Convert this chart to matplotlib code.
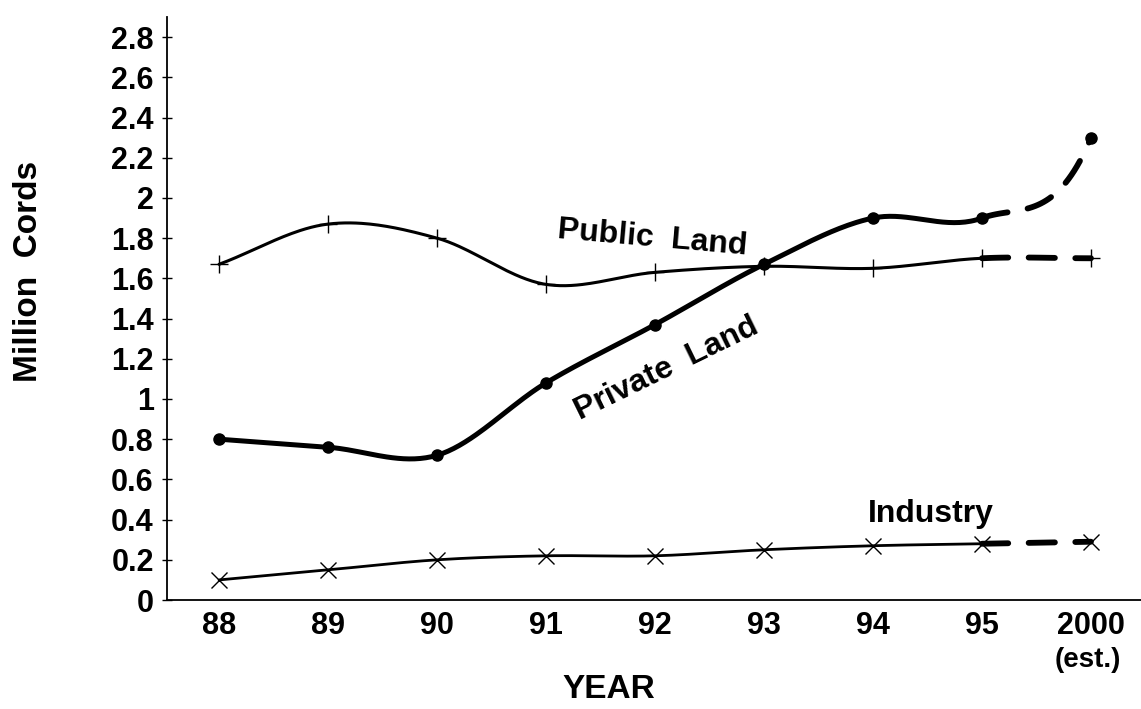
import numpy as np
import matplotlib
matplotlib.use("Agg")
import matplotlib.pyplot as plt

# data (million cords)
years = ["88", "89", "90", "91", "92", "93", "94", "95", "2000"]
public_land = [1.67, 1.87, 1.80, 1.57, 1.63, 1.66, 1.65, 1.70, 1.70]
private_land = [0.80, 0.76, 0.72, 1.08, 1.37, 1.67, 1.90, 1.90, 2.30]
industry = [0.10, 0.15, 0.20, 0.22, 0.22, 0.25, 0.27, 0.28, 0.29]
y_ticks = [0, 0.2, 0.4, 0.6, 0.8, 1, 1.2, 1.4, 1.6, 1.8, 2, 2.2, 2.4, 2.6, 2.8]

plt.rcParams["font.family"] = ["Liberation Sans", "DejaVu Sans"]
plt.rcParams["font.weight"] = "bold"


def smooth(xs, ys, end_slope=None, n=40):
    # cubic hermite (catmull-rom) through the points
    xs = np.asarray(xs, float)
    ys = np.asarray(ys, float)
    m = np.gradient(ys, xs)
    if end_slope is not None:
        m[-1] = end_slope
    out_x, out_y = [], []
    for i in range(len(xs) - 1):
        t = np.linspace(0, 1, n)
        h = xs[i + 1] - xs[i]
        h00 = 2 * t**3 - 3 * t**2 + 1
        h10 = t**3 - 2 * t**2 + t
        h01 = -2 * t**3 + 3 * t**2
        h11 = t**3 - t**2
        out_x.append(xs[i] + t * h)
        out_y.append(h00 * ys[i] + h10 * h * m[i] + h01 * ys[i + 1] + h11 * h * m[i + 1])
    return np.concatenate(out_x), np.concatenate(out_y)


def draw(ax, vals, marker, lw, ms, mew, proj_slope=None):
    x = np.arange(len(vals))
    sx, sy = smooth(x, vals)
    solid = sx <= 7
    ax.plot(sx[solid], sy[solid], color="black", lw=lw, solid_capstyle="round", zorder=3)
    # dashed projection 95 -> 2000 (est.)
    px, py = smooth(x[6:], vals[6:], end_slope=proj_slope)
    keep = px >= 7
    ax.plot(px[keep], py[keep], color="black", lw=4.2, dashes=(4.5, 3.5),
            dash_capstyle="round", zorder=3)
    ax.plot(x, vals, linestyle="none", marker=marker, color="black",
            ms=ms, mew=mew, zorder=4)


fig = plt.figure(figsize=(11.41, 7.09), dpi=100)
ax = fig.add_axes([0.1464, 0.1537, 0.8536, 0.8223])

draw(ax, public_land, "+", 2.2, 13, 1.0)
draw(ax, private_land, "o", 3.6, 8, 1.0, proj_slope=1.3)
draw(ax, industry, "x", 2.0, 11, 1.0)

ax.set_xlim(-0.477, 8.459)
ax.set_ylim(0, 2.9)
ax.set_xticks(range(len(years)))
ax.set_xticklabels(years, fontsize=22, fontweight="bold")
ax.tick_params(axis="x", length=0, pad=8)
ax.text(7.97, -0.30, "(est.)", ha="center", va="center", fontsize=20, fontweight="bold")
ax.set_yticks(y_ticks)
ax.set_yticklabels([f"{v:g}" for v in y_ticks], fontsize=22, fontweight="bold")
ax.tick_params(axis="y", direction="inout", length=7, width=1.0, pad=6)

for s in ["top", "right"]:
    ax.spines[s].set_visible(False)
ax.spines["left"].set_linewidth(1.3)
ax.spines["bottom"].set_linewidth(1.3)

ax.set_ylabel("Million  Cords", fontsize=24, fontweight="bold", va="center")
ax.yaxis.set_label_coords(-0.1427, 0.564)
ax.set_xlabel("YEAR", fontsize=24, fontweight="bold", va="center")
ax.xaxis.set_label_coords(0.4538, -0.1527)

ax.text(3.98, 1.80, "Public  Land", fontsize=23, fontweight="bold",
        ha="center", va="center", rotation=-5)
ax.text(4.11, 1.15, "Private  Land", fontsize=23, fontweight="bold",
        ha="center", va="center", rotation=26)
ax.text(6.53, 0.388, "Industry", fontsize=23, fontweight="bold",
        ha="center", va="baseline")

fig.savefig("out.png", dpi=100)
